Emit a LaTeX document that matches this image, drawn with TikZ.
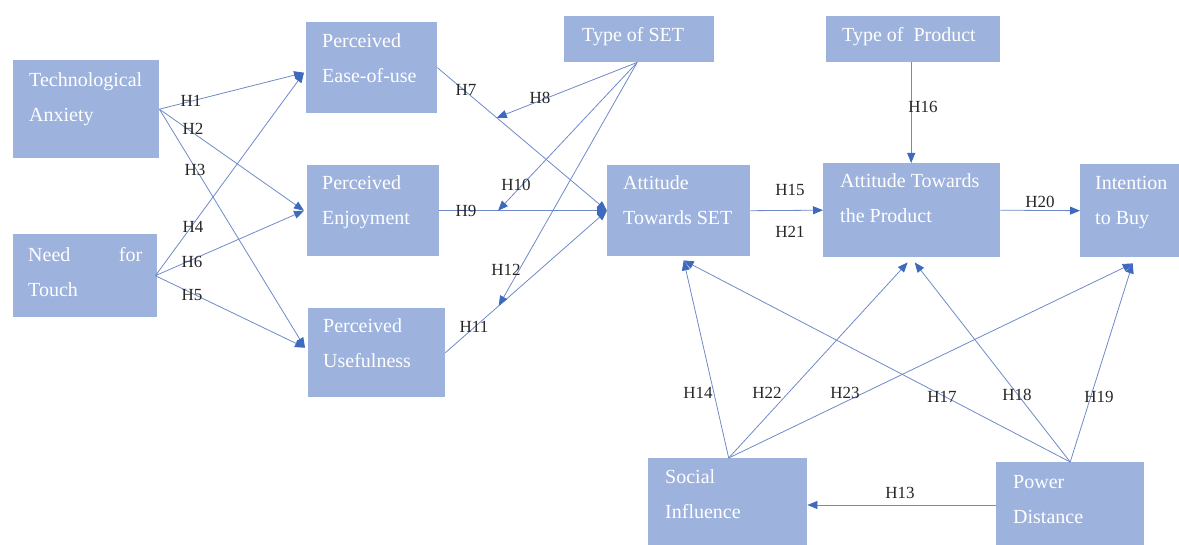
\documentclass[tikz,border=0pt]{standalone}
\usepackage{fontspec}
\setmainfont{Liberation Serif}
\usetikzlibrary{arrows.meta,calc}

\definecolor{boxblue}{RGB}{157,178,221}
\definecolor{linkblue}{RGB}{110,138,200}
\definecolor{tipblue}{RGB}{62,106,190}

\tikzset{
  factor/.style={fill=boxblue, draw=none, inner sep=0pt, anchor=north west},
  caption/.style={text=white, font=\fontsize{20}{35}\selectfont, anchor=base west, inner sep=0pt},
  link/.style={draw=linkblue, line width=0.8pt,
    -{Triangle[length=10pt,width=8pt,color=tipblue]}},
  hyp/.style={font=\fontsize{17}{19}\selectfont, text=black!85, inner sep=0pt},
}

% a filled box given by its corners: name, x1, y1, x2, y2
\newcommand\factorbox[5]{%
  \node[factor, minimum width={(#4-#2)*1pt}, minimum height={(#5-#3)*1pt}] (#1) at (#2,#3) {};}
% two stacked lines of text
\newcommand\twolines[2]{\vtop{\hbox{#1}\hbox{#2}}}

\begin{document}
\begin{tikzpicture}[x=1pt, y=-1pt]
\useasboundingbox (0,0) rectangle (1179,545);

% boxes
\factorbox{ta}{13}{60}{159}{158}
\factorbox{nft}{13}{234}{157}{317}
\factorbox{peou}{306}{22}{437}{113}
\factorbox{enj}{307}{165}{439}{256}
\factorbox{use}{308}{308}{445}{397}
\factorbox{tset}{564}{16}{714}{62}
\factorbox{ats}{607}{165}{750}{256}
\factorbox{tprod}{826}{16}{1000}{62}
\factorbox{atp}{823}{163}{1000}{257}
\factorbox{itb}{1080}{164}{1179}{257}
\factorbox{si}{648}{458}{807}{545}
\factorbox{pd}{996}{462}{1144}{545}

% box texts
\node[caption] (ta-t) at ($(ta.north west)+(16,27)$) {\twolines{Technological}{Anxiety}};
\node[caption] (nft-t) at ($(nft.north west)+(15,28)$) {\twolines{\hbox to 114pt{Need\hfill for}}{Touch}};
\node[caption] (peou-t) at ($(peou.north west)+(16,26)$) {\twolines{Perceived}{Ease-of-use}};
\node[caption] (enj-t) at ($(enj.north west)+(15,25)$) {\twolines{Perceived}{Enjoyment}};
\node[caption] (use-t) at ($(use.north west)+(15,25)$) {\twolines{Perceived}{Usefulness}};
\node[caption] (tset-t) at ($(tset.north west)+(18,26)$) {Type of SET};
\node[caption] (tprod-t) at ($(tprod.north west)+(16,26)$) {Type of \ Product};
\node[caption] (ats-t) at ($(ats.north west)+(16,25)$) {\twolines{Attitude}{Towards SET}};
\node[caption] (atp-t) at ($(atp.north west)+(17,25)$) {\twolines{Attitude Towards}{the Product}};
\node[caption] (itb-t) at ($(itb.north west)+(15,26)$) {\twolines{Intention}{to Buy}};
\node[caption] (si-t) at ($(si.north west)+(17,25)$) {\twolines{Social}{Influence}};
\node[caption] (pd-t) at ($(pd.north west)+(17,27)$) {\twolines{Power}{Distance}};

% anchor points on box edges
\coordinate (ta-o) at ($(ta.east)+(0,0)$);
\coordinate (nft-o) at ($(nft.east)+(-2,0)$);
\coordinate (peou-i) at ($(peou.west)+(-2,5)$);
\coordinate (enj-i) at ($(enj.west)+(-3,0)$);
\coordinate (use-i) at ($(use.west)+(-3,-5)$);
\coordinate (tset-o) at ($(tset.south)+(-2,0)$);
\coordinate (ats-i) at ($(ats.west)+(0,0)$);
\coordinate (ats-b) at ($(ats.south)+(5,4)$);
\coordinate (atp-b1) at ($(atp.south)+(-4,5)$);
\coordinate (atp-b2) at ($(atp.south)+(3,5)$);
\coordinate (itb-b) at ($(itb.south)+(3,6)$);
\coordinate (si-o) at ($(si.north)+(1,0)$);
\coordinate (pd-o) at ($(pd.north)+(0,0)$);
\coordinate (tprod-o) at ($(tprod.south)+(-2,0)$);

% antecedents of the perceived beliefs
\draw[link] (ta-o) -- (peou-i);
\draw[link] (ta-o) -- (enj-i);
\draw[link] (ta-o) -- (use-i);
\draw[link] (nft-o) -- (peou-i);
\draw[link] (nft-o) -- (enj-i);
\draw[link] (nft-o) -- (use-i);

% beliefs to attitude towards SET
\draw[link] (peou.east) -- (ats-i);
\draw[link] (enj.east) -- (ats-i);
\draw[link] (use.east) -- (ats-i);

% moderating paths of Type of SET
\draw[link] (tset-o) -- ($(peou.east)!0.35!(ats-i)$);
\draw[link] (tset-o) -- ($(enj.east)!0.35!(ats-i)$);
\draw[link] (tset-o) -- ($(use.east)!0.33!(ats-i)$);

% right-hand chain
\draw[link] (ats.east) -- (atp.west);
\draw[link] (tprod-o) -- (tprod-o |- atp.north);
\draw[link] (atp.east) -- (itb.west);

% social influence and power distance
\draw[link] (si-o) -- (ats-b);
\draw[link] (si-o) -- (atp-b1);
\draw[link] (si-o) -- (itb-b);
\draw[link] (pd-o) -- (ats-b);
\draw[link] (pd-o) -- (atp-b2);
\draw[link] (pd-o) -- (itb-b);
\draw[link] (pd.west |- 0,505) -- (si.east |- 0,505);

% hypothesis labels
\node[hyp] (h1) at (191,101) {H1};
\node[hyp] (h2) at (193,129) {H2};
\node[hyp] (h3) at (195,170) {H3};
\node[hyp] (h4) at (193,227) {H4};
\node[hyp] (h6) at (192,262) {H6};
\node[hyp] (h5) at (192,295) {H5};
\node[hyp] (h7) at (466,90) {H7};
\node[hyp] (h8) at (540,98) {H8};
\node[hyp] (h10) at (516,185) {H10};
\node[hyp] (h9) at (466,211) {H9};
\node[hyp] (h12) at (506,270) {H12};
\node[hyp] (h11) at (474,327) {H11};
\node[hyp] (h15) at (790,190) {H15};
\node[hyp] (h21) at (790,232) {H21};
\node[hyp] (h16) at (923,107) {H16};
\node[hyp] (h20) at (1040,202) {H20};
\node[hyp] (h14) at (698,393) {H14};
\node[hyp] (h22) at (767,393) {H22};
\node[hyp] (h23) at (845,393) {H23};
\node[hyp] (h17) at (942,397) {H17};
\node[hyp] (h18) at (1017,395) {H18};
\node[hyp] (h19) at (1099,397) {H19};
\node[hyp] (h13) at (900,493) {H13};
\end{tikzpicture}
\end{document}
